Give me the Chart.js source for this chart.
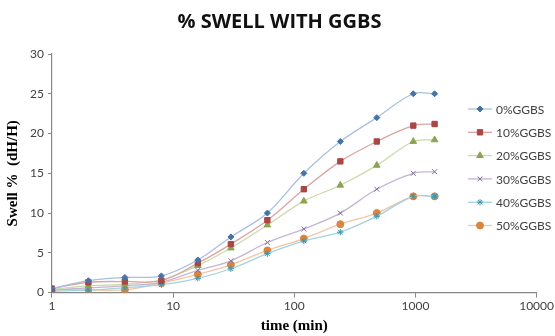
<!DOCTYPE html>
<html>
<head>
<meta charset="utf-8">
<script src="https://cdn.jsdelivr.net/npm/chart.js@4"></script>
<style>
  html, body { margin: 0; padding: 0; background: #fff; }
  #wrap { width: 555px; height: 336px; }
</style>
</head>
<body>
<div id="wrap"><canvas id="grafico-swell"></canvas></div>
<script>
// dados
const tempos = [1, 2, 4, 8, 16, 30, 60, 120, 240, 480, 960, 1440];
const ggbs0  = [0.5, 1.5, 1.9, 2.1, 4.1, 7.0, 10.0, 15.0, 19.0, 22.0, 25.0, 25.0];
const ggbs10 = [0.5, 1.3, 1.4, 1.5, 3.7, 6.1, 9.1, 13.0, 16.5, 19.0, 21.0, 21.2];
const ggbs20 = [0.4, 0.85, 1.05, 1.6, 3.4, 5.6, 8.5, 11.5, 13.5, 16.0, 19.0, 19.2];
const ggbs30 = [0.3, 0.6, 0.85, 1.3, 2.8, 4.0, 6.3, 8.0, 10.0, 13.0, 15.0, 15.2];
const ggbs40 = [0.2, 0.3, 0.6, 1.0, 1.8, 3.0, 4.9, 6.5, 7.6, 9.6, 12.1, 12.1];
const ggbs50 = [0.4, 0.35, 0.35, 1.2, 2.3, 3.5, 5.3, 6.8, 8.6, 10.0, 12.1, 12.1];
const nomes = ['0%GGBS', '10%GGBS', '20%GGBS', '30%GGBS', '40%GGBS', '50%GGBS'];
const ticksX = [1, 10, 100, 1000, 10000];

const series = [ggbs0, ggbs10, ggbs20, ggbs30, ggbs40, ggbs50];
const corMarca = ['#4572A7', '#AA4643', '#89A54E', '#80699B', '#3D96AE', '#DB843D'];
const corLinha = ['#A8C0E0', '#DDA3A2', '#C9DBA8', '#C3B6D3', '#A2D3E0', '#F2C6A2'];
const estilos = ['rectRot', 'rect', 'triangle', 'crossRot', 'star', 'circle'];
const raios = [3, 3.8, 3.8, 3.5, 3.2, 3.5];

const datasets = series.map((s, i) => ({
  label: nomes[i],
  data: s.map((v, j) => ({ x: tempos[j], y: v })),
  borderColor: corLinha[i],
  backgroundColor: corMarca[i],
  pointBorderColor: corMarca[i],
  pointBackgroundColor: corMarca[i],
  pointStyle: estilos[i],
  pointRadius: raios[i],
  pointBorderWidth: 1,
  borderWidth: 1.3,
  tension: 0.35,
  fill: false
}));

// legenda desenhada dentro da area do grafico
const legendaInterna = {
  id: 'legendaInterna',
  afterDraw(chart) {
    const ctx = chart.ctx;
    const x0 = chart.width - 87;
    const y0 = 109;
    ctx.save();
    chart.data.datasets.forEach((ds, i) => {
      const y = y0 + i * 23.3;
      ctx.strokeStyle = ds.borderColor;
      ctx.lineWidth = 1.3;
      ctx.beginPath();
      ctx.moveTo(x0, y);
      ctx.lineTo(x0 + 24, y);
      ctx.stroke();
      ctx.fillStyle = ds.pointBackgroundColor;
      ctx.strokeStyle = ds.pointBorderColor;
      ctx.lineWidth = 1;
      Chart.helpers.drawPoint(ctx, { pointStyle: ds.pointStyle, radius: ds.pointRadius, rotation: 0, borderWidth: 1 }, x0 + 12, y);
      ctx.fillStyle = '#404040';
      ctx.font = '12px Lato';
      ctx.textBaseline = 'middle';
      ctx.textAlign = 'left';
      ctx.fillText(ds.label, x0 + 28, y + 1);
    });
    ctx.restore();
  }
};

new Chart(document.getElementById('grafico-swell'), {
  type: 'line',
  data: { datasets },
  plugins: [legendaInterna],
  options: {
    responsive: true,
    maintainAspectRatio: false,
    animation: false,
    layout: { padding: { left: 4, right: 0, top: 0, bottom: 1 } },
    scales: {
      x: {
        type: 'logarithmic',
        min: 1,
        max: 10000,
        afterBuildTicks: (scale) => { scale.ticks = ticksX.map(v => ({ value: v })); },
        ticks: {
          color: '#404040',
          font: { family: 'Lato', size: 12 },
          maxRotation: 0,
          padding: 1,
          callback: (v) => String(v)
        },
        grid: { drawOnChartArea: false, color: '#868686', tickLength: 5 },
        border: { color: '#868686', width: 1.2 },
        title: {
          display: true,
          text: 'time (min)',
          color: '#000',
          font: { family: 'Liberation Serif', size: 15, weight: 'bold' },
          padding: { top: 3, bottom: 0 }
        }
      },
      y: {
        min: 0,
        max: 30,
        ticks: {
          stepSize: 5,
          color: '#404040',
          font: { family: 'Lato', size: 12 },
          padding: 4
        },
        grid: { drawOnChartArea: false, color: '#868686', tickLength: 4 },
        border: { color: '#868686', width: 1.2 },
        title: {
          display: true,
          text: 'Swell %  (dH/H)',
          color: '#000',
          font: { family: 'Liberation Serif', size: 15, weight: 'bold' },
          padding: { top: 0, bottom: 4 }
        }
      }
    },
    plugins: {
      legend: { display: false },
      tooltip: { enabled: false },
      title: {
        display: true,
        text: '% SWELL WITH GGBS',
        color: '#111',
        font: { family: 'Open Sans', size: 20, weight: 'bold' },
        padding: { top: 10, bottom: 20 }
      }
    }
  }
});
</script>
</body>
</html>
